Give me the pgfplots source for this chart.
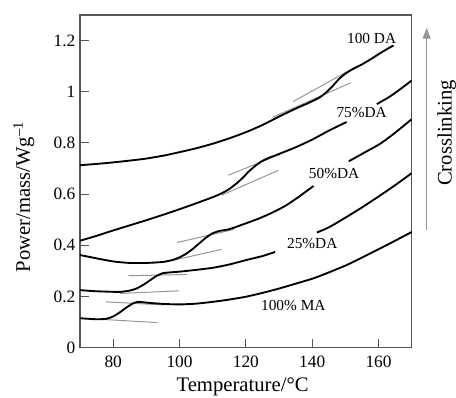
\documentclass[border=0pt]{standalone}
\usepackage{fontspec}
\setmainfont{Liberation Serif}
\usepackage{pgfplots}
\pgfplotsset{compat=1.18}
\usetikzlibrary{arrows.meta}
\definecolor{tang}{RGB}{150,150,150}
\definecolor{frame}{RGB}{85,85,85}
\begin{document}
\begin{tikzpicture}
\useasboundingbox (-60pt,-37.7pt) rectangle (282pt,260.75pt);
\begin{axis}[
  scale only axis, width=248.8pt, height=249.5pt,
  xmin=70, xmax=170, ymin=0, ymax=1.3,
  xtick={80,100,120,140,160},
  ytick={0,0.2,0.4,0.6,0.8,1,1.2},
  yticklabels={0,0.2,0.4,0.6,0.8,1,1.2},
  tick align=inside, major tick length=6.5pt,
  tick pos=left,
  axis line style={frame, line width=0.8pt},
  tick style={frame, line width=0.8pt},
  /pgf/number format/assume math mode=true,
  tick label style={font=\fontsize{13}{15}\selectfont},
  xticklabel style={yshift=-2.5pt},
  xlabel={Temperature/°C},
  ylabel={Power/mass/Wg\textsuperscript{–1}},
  label style={font=\fontsize{15.5}{18}\selectfont},
  xlabel style={at={(axis description cs:0.49,0)}, anchor=center, yshift=-29pt},
  ylabel style={at={(axis description cs:-0.169,0.453)}, anchor=center},
  clip=true,
  every axis plot/.append style={no marks},
]
% tangent lines
\addplot[tang, line width=0.75pt] coordinates {(134.3,0.962) (153.9,1.103)};
\addplot[tang, line width=0.75pt] coordinates {(128,0.900) (151.6,1.035)};
\addplot[tang, line width=0.75pt] coordinates {(114.7,0.674) (130.3,0.755)};
\addplot[tang, line width=0.75pt] coordinates {(112.7,0.596) (129.8,0.693)};
\addplot[tang, line width=0.75pt] coordinates {(99.3,0.411) (116.4,0.462)};
\addplot[tang, line width=0.75pt] coordinates {(95.1,0.333) (112.7,0.384)};
\addplot[tang, line width=0.75pt] coordinates {(84.6,0.281) (102.2,0.286)};
\addplot[tang, line width=0.75pt] coordinates {(82.1,0.212) (99.7,0.222)};
\addplot[tang, line width=0.75pt] coordinates {(77.8,0.179) (95.1,0.167)};
\addplot[tang, line width=0.75pt] coordinates {(76,0.111) (93.3,0.098)};
% 100 DA
\addplot[black, line width=1.4pt, smooth, tension=0.4] coordinates {
(70,0.713) (75,0.718) (80,0.724) (85,0.731) (90,0.739) (95,0.750) (100,0.764)
(105,0.779) (110,0.797) (115,0.818) (120,0.842) (125,0.870) (130,0.903)
(135,0.934) (139,0.957) (142,0.976) (144,0.995) (146,1.020) (148,1.049)
(150,1.071) (152,1.087) (155,1.107) (158,1.130) (161,1.155) (164.5,1.181)};
% 75% DA
\addplot[black, line width=1.4pt, smooth, tension=0.4] coordinates {
(70,0.418) (75,0.437) (80,0.458) (85,0.478) (90,0.498) (95,0.519) (100,0.541)
(105,0.564) (110,0.588) (113,0.605) (115,0.620) (117,0.640) (119,0.663)
(121,0.690) (123,0.712) (125,0.730) (127,0.742) (130,0.757) (135,0.783)
(140,0.813) (145,0.848) (150.4,0.882)};
\addplot[black, line width=1.4pt, smooth, tension=0.4] coordinates {
(159.5,0.952) (163,0.978) (166,1.005) (170,1.044)};
% 50% DA
\addplot[black, line width=1.4pt, smooth, tension=0.4] coordinates {
(70,0.362) (75,0.349) (80,0.337) (85,0.331) (90,0.331) (95,0.335) (98,0.343)
(100,0.353) (102,0.367) (104,0.386) (106,0.408) (108,0.430) (110,0.447)
(112,0.456) (115,0.463) (119,0.481) (124,0.505) (128,0.528) (132,0.555)
(136,0.590) (140.4,0.632)};
\addplot[black, line width=1.4pt, smooth, tension=0.4] coordinates {
(151,0.728) (155,0.757) (160.5,0.797) (165,0.840) (170,0.893)};
% 25% DA
\addplot[black, line width=1.4pt, smooth, tension=0.4] coordinates {
(70,0.225) (74,0.221) (78,0.219) (82,0.218) (85,0.223) (87,0.231) (89,0.245)
(91,0.262) (93,0.280) (95,0.291) (97,0.294) (100,0.297) (105,0.304) (110,0.312)
(115,0.325) (120,0.342) (125,0.358) (128.8,0.374)};
\addplot[black, line width=1.4pt, smooth, tension=0.4] coordinates {
(141.4,0.450) (145,0.470) (150,0.508) (155,0.548) (160.5,0.595) (165,0.635) (170,0.682)};
% 100% MA
\addplot[black, line width=1.4pt, smooth, tension=0.4] coordinates {
(70,0.115) (75,0.111) (78,0.113) (80,0.122) (82,0.138) (84,0.157) (86,0.173)
(87.5,0.179) (90,0.176) (95,0.171) (100,0.169) (105,0.172) (110,0.179)
(115,0.188) (120,0.199) (125,0.214) (130,0.231) (135,0.250) (140.4,0.271)
(145,0.294) (150.4,0.323) (155,0.352) (160.5,0.388) (165,0.418) (170,0.452)};
% labels
\node[font=\fontsize{11.5}{13}\selectfont] at (axis cs:157.9,1.207) {100 DA};
\node[font=\fontsize{11.5}{13}\selectfont] at (axis cs:154.9,0.920) {75\%DA};
\node[font=\fontsize{11.5}{13}\selectfont] at (axis cs:146.6,0.680) {50\%DA};
\node[font=\fontsize{11.5}{13}\selectfont] at (axis cs:140.0,0.407) {25\%DA};
\node[font=\fontsize{11.5}{13}\selectfont] at (axis cs:134.3,0.163) {100\% MA};
\end{axis}
\draw[tang, line width=0.8pt, -{Triangle[length=8pt,width=6pt]}] (260pt,88.3pt) -- (260pt,239.8pt);
\node[rotate=90, font=\fontsize{15.5}{18}\selectfont] at (275pt,161pt) {Crosslinking};
\end{tikzpicture}
\end{document}
